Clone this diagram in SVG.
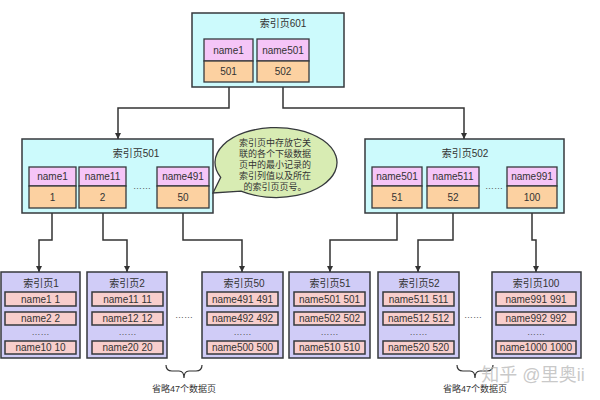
<svg xmlns="http://www.w3.org/2000/svg" width="600" height="400" viewBox="0 0 600 400">
<style>
text{font-family:"Liberation Sans","Noto Sans CJK SC",sans-serif;fill:#333;text-anchor:middle;dominant-baseline:central;font-size:10px}
.idx{fill:#ccfafc;stroke:#36393d;stroke-width:1.5}
.key{fill:#f5c5f7;stroke:#36393d;stroke-width:1.3}
.val{fill:#fcd1a1;stroke:#36393d;stroke-width:1.3}
.leaf{fill:#d0ccf7;stroke:#36393d;stroke-width:1.5}
.row{fill:#f8cecc;stroke:#36393d;stroke-width:1.5}
.conn{fill:none;stroke:#333;stroke-width:1.5;marker-end:url(#ah)}
.brace{fill:none;stroke:#333;stroke-width:1.2}
.dots{fill:#555;font-size:9px}
.note{font-size:9px}
</style>
<defs>
<marker id="ah" viewBox="0 0 10 10" refX="10" refY="5" markerWidth="6" markerHeight="6" markerUnits="userSpaceOnUse" orient="auto">
<path d="M0,0 L10,5 L0,10 z" fill="#333"/>
</marker>
</defs>
<rect width="600" height="400" fill="#fff"/>

<g id="connectors">
<path class="conn" d="M229,82 V108 H118 V139"/>
<path class="conn" d="M283,82 V108 H464 V139"/>
<path class="conn" d="M52,208 V240 H39 V272"/>
<path class="conn" d="M103,208 V240 H127 V272"/>
<path class="conn" d="M183,208 V240 H242 V272"/>
<path class="conn" d="M397,208 V240 H330 V272"/>
<path class="conn" d="M453,208 V240 H418 V272"/>
<path class="conn" d="M532,208 V240 H536 V272"/>
</g>

<g id="page601">
<rect class="idx" x="192" y="13" width="152" height="74"/>
<text x="283" y="23">索引页601</text>
<rect class="key" x="204" y="39" width="49" height="22"/>
<rect class="val" x="204" y="61" width="49" height="21"/>
<text x="228.5" y="50">name1</text>
<text x="228.5" y="71.5">501</text>
<rect class="key" x="257" y="39" width="52" height="22"/>
<rect class="val" x="257" y="61" width="52" height="21"/>
<text x="283" y="50">name501</text>
<text x="283" y="71.5">502</text>
</g>

<g id="page501">
<rect class="idx" x="22" y="139" width="191" height="74"/>
<text x="136" y="153">索引页501</text>
<rect class="key" x="29" y="167" width="47" height="19"/>
<rect class="val" x="29" y="186" width="47" height="22"/>
<text x="52.5" y="176.5">name1</text>
<text x="52.5" y="197">1</text>
<rect class="key" x="79" y="167" width="47" height="19"/>
<rect class="val" x="79" y="186" width="47" height="22"/>
<text x="102.5" y="176.5">name11</text>
<text x="102.5" y="197">2</text>
<text class="dots" x="142" y="186">……</text>
<rect class="key" x="157" y="167" width="52" height="19"/>
<rect class="val" x="157" y="186" width="52" height="22"/>
<text x="183" y="176.5">name491</text>
<text x="183" y="197">50</text>
</g>

<g id="note">
<path d="M220.7,177.3 A61,35 0 1 1 241,191.2 L213,193 Z" fill="#d8ecb3" stroke="#36393d" stroke-width="1.3"/>
<text class="note" x="275" y="143">索引页中存放它关</text>
<text class="note" x="275" y="154">联的各个下级数据</text>
<text class="note" x="275" y="165">页中的最小记录的</text>
<text class="note" x="275" y="176">索引列值以及所在</text>
<text class="note" x="275" y="187">的索引页页号。</text>
</g>

<g id="page502">
<rect class="idx" x="365" y="139" width="199" height="74"/>
<text x="465" y="153">索引页502</text>
<rect class="key" x="372" y="167" width="50" height="19"/>
<rect class="val" x="372" y="186" width="50" height="22"/>
<text x="397" y="176.5">name501</text>
<text x="397" y="197">51</text>
<rect class="key" x="427" y="167" width="52" height="19"/>
<rect class="val" x="427" y="186" width="52" height="22"/>
<text x="453" y="176.5">name511</text>
<text x="453" y="197">52</text>
<text class="dots" x="494" y="186">……</text>
<rect class="key" x="507" y="167" width="50" height="19"/>
<rect class="val" x="507" y="186" width="50" height="22"/>
<text x="532" y="176.5">name991</text>
<text x="532" y="197">100</text>
</g>

<g id="leaf1">
<rect class="leaf" x="1" y="272" width="79" height="86"/>
<text x="41" y="283">索引页1</text>
<rect class="row" x="5" y="292" width="71" height="14"/><text x="40.5" y="299">name1 1</text>
<rect class="row" x="5" y="312" width="71" height="13"/><text x="40.5" y="318.5">name2 2</text>
<text class="dots" x="40.5" y="332">……</text>
<rect class="row" x="5" y="341" width="71" height="13"/><text x="40.5" y="347.5">name10 10</text>
</g>

<g id="leaf2">
<rect class="leaf" x="87" y="272" width="80" height="86"/>
<text x="127" y="283">索引页2</text>
<rect class="row" x="92" y="292" width="71" height="14"/><text x="127.5" y="299">name11 11</text>
<rect class="row" x="92" y="312" width="71" height="13"/><text x="127.5" y="318.5">name12 12</text>
<text class="dots" x="127.5" y="332">……</text>
<rect class="row" x="92" y="341" width="71" height="13"/><text x="127.5" y="347.5">name20 20</text>
</g>

<text class="dots" x="184" y="315">……</text>

<g id="leaf50">
<rect class="leaf" x="202" y="272" width="81" height="86"/>
<text x="244" y="283">索引页50</text>
<rect class="row" x="207" y="292" width="71" height="14"/><text x="242.5" y="299">name491 491</text>
<rect class="row" x="207" y="312" width="71" height="13"/><text x="242.5" y="318.5">name492 492</text>
<text class="dots" x="242.5" y="332">……</text>
<rect class="row" x="207" y="341" width="71" height="13"/><text x="242.5" y="347.5">name500 500</text>
</g>

<g id="leaf51">
<rect class="leaf" x="289" y="272" width="81" height="86"/>
<text x="330" y="283">索引页51</text>
<rect class="row" x="294" y="292" width="71" height="14"/><text x="329.5" y="299">name501 501</text>
<rect class="row" x="294" y="312" width="71" height="13"/><text x="329.5" y="318.5">name502 502</text>
<text class="dots" x="329.5" y="332">……</text>
<rect class="row" x="294" y="341" width="71" height="13"/><text x="329.5" y="347.5">name510 510</text>
</g>

<g id="leaf52">
<rect class="leaf" x="378" y="272" width="81" height="86"/>
<text x="419" y="283">索引页52</text>
<rect class="row" x="383" y="292" width="71" height="14"/><text x="418.5" y="299">name511 511</text>
<rect class="row" x="383" y="312" width="71" height="13"/><text x="418.5" y="318.5">name512 512</text>
<text class="dots" x="418.5" y="332">……</text>
<rect class="row" x="383" y="341" width="71" height="13"/><text x="418.5" y="347.5">name520 520</text>
</g>

<text class="dots" x="473" y="315">……</text>

<g id="leaf100">
<rect class="leaf" x="492" y="272" width="89" height="86"/>
<text x="536" y="283">索引页100</text>
<rect class="row" x="496" y="292" width="80" height="14"/><text x="536" y="299">name991 991</text>
<rect class="row" x="496" y="312" width="80" height="13"/><text x="536" y="318.5">name992 992</text>
<text class="dots" x="536" y="332">……</text>
<rect class="row" x="496" y="341" width="80" height="13"/><text x="536" y="347.5">name1000 1000</text>
</g>

<g id="omit1">
<path class="brace" d="M166,365 Q166,371 172,371 L179,371 Q184,371 184,378 Q184,371 189,371 L196,371 Q202,371 202,365"/>
<text class="note" x="184" y="389">省略47个数据页</text>
</g>
<g id="omit2">
<path class="brace" d="M457,365 Q457,371 463,371 L470,371 Q475,371 475,378 Q475,371 480,371 L487,371 Q493,371 493,365"/>
<text class="note" x="475" y="389">省略47个数据页</text>
</g>

<text x="533" y="375" style="font-size:18px;fill:#bbb;fill-opacity:0.8">知乎 @里奥ii</text>
</svg>
